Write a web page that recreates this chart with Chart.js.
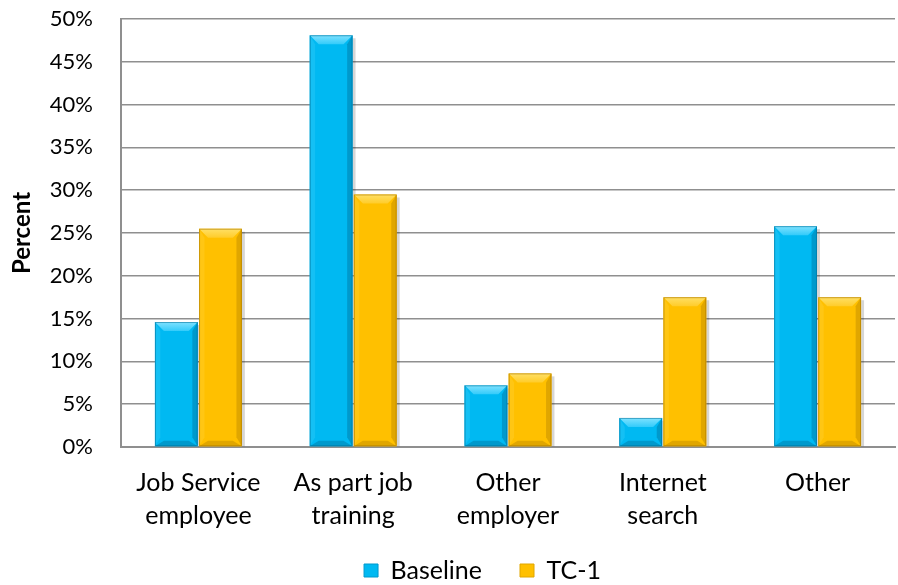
<!DOCTYPE html>
<html>
<head>
<meta charset="utf-8">
<script src="https://cdn.jsdelivr.net/npm/chart.js@4"></script>
<style>
  html, body { margin: 0; padding: 0; background: #fff; }
  #wrap { width: 898px; height: 585px; }
</style>
</head>
<body>
<div id="wrap"><canvas id="chart" width="898" height="585"></canvas></div>
<script>
const categories = [['Job Service', 'employee'], ['As part job', 'training'], ['Other', 'employer'], ['Internet', 'search'], ['Other']];
const baseline = [14.6, 48.1, 7.2, 3.4, 25.8];
const tc1 = [25.5, 29.5, 8.6, 17.5, 17.5];
const yTicks = [0, 5, 10, 15, 20, 25, 30, 35, 40, 45, 50];

const FONT = 'Lato, "Open Sans", sans-serif';
const LEGEND_H = 65;

// bevelled bar look: lighter top facet, shaded sides, soft shadow on the right
const bevel = {
  id: 'bevel',
  beforeDatasetsDraw(chart) {
    const ctx = chart.ctx;
    chart.data.datasets.forEach((ds, di) => {
      chart.getDatasetMeta(di).data.forEach(bar => {
        const w = bar.width;
        ctx.save();
        ctx.fillStyle = 'rgba(0,0,0,0.16)';
        ctx.fillRect(bar.x + w / 2, bar.y + 3, 3, bar.base - bar.y - 3);
        ctx.restore();
      });
    });
  },
  afterDatasetsDraw(chart) {
    const ctx = chart.ctx;
    chart.data.datasets.forEach((ds, di) => {
      chart.getDatasetMeta(di).data.forEach(bar => {
        const w = bar.width;
        const l = bar.x - w / 2, r = bar.x + w / 2;
        const t = bar.y, b = bar.base;
        const h = b - t;
        const bv = Math.min(9, h / 2, w / 2);
        ctx.save();
        // top facet
        const g = ctx.createLinearGradient(0, t, 0, t + bv);
        g.addColorStop(0, ds.bevelTop);
        g.addColorStop(1, ds.bevelTop2);
        ctx.fillStyle = g;
        ctx.beginPath();
        ctx.moveTo(l, t); ctx.lineTo(r, t); ctx.lineTo(r - bv, t + bv); ctx.lineTo(l + bv, t + bv);
        ctx.closePath(); ctx.fill();
        // left facet
        ctx.fillStyle = ds.bevelSide;
        ctx.beginPath();
        ctx.moveTo(l, t); ctx.lineTo(l + bv * 0.6, t + bv); ctx.lineTo(l + bv * 0.6, b - bv); ctx.lineTo(l, b);
        ctx.closePath(); ctx.fill();
        // right facet
        ctx.fillStyle = ds.bevelDark;
        ctx.beginPath();
        ctx.moveTo(r, t); ctx.lineTo(r - bv * 0.6, t + bv); ctx.lineTo(r - bv * 0.6, b - bv); ctx.lineTo(r, b);
        ctx.closePath(); ctx.fill();
        // bottom facet
        ctx.fillStyle = ds.bevelDark;
        ctx.beginPath();
        ctx.moveTo(l, b); ctx.lineTo(r, b); ctx.lineTo(r - bv, b - bv * 0.6); ctx.lineTo(l + bv, b - bv * 0.6);
        ctx.closePath(); ctx.fill();
        // outline
        ctx.strokeStyle = ds.edge;
        ctx.lineWidth = 1;
        ctx.strokeRect(l + 0.5, t + 0.5, w - 1, h - 1);
        ctx.restore();
      });
    });
  }
};

// legend keeps wide item spacing but takes less height; category labels may run into its box
const legendFit = {
  id: 'legendFit',
  beforeLayout(chart) {
    const lg = chart.legend;
    if (lg && !lg._fitWrapped) {
      const fit = lg.fit;
      lg.fit = function () { fit.call(this); this.height = LEGEND_H; };
      lg._fitWrapped = true;
    }
  },
  afterLayout(chart) {
    const lg = chart.legend;
    lg.left += 35; lg.right += 35;
    chart.scales.x.bottom += 16;
  }
};

new Chart(document.getElementById('chart'), {
  type: 'bar',
  data: {
    labels: categories,
    datasets: [{
      label: 'Baseline',
      data: baseline,
      backgroundColor: '#00b9f2',
      borderWidth: 0,
      bevelTop: '#7fe2ff',
      bevelTop2: '#33cbfa',
      bevelSide: '#14c0f4',
      bevelDark: '#0099cc',
      edge: 'rgba(0,110,150,0.55)',
      categoryPercentage: 0.57,
      barPercentage: 0.97
    }, {
      label: 'TC-1',
      data: tc1,
      backgroundColor: '#ffc000',
      borderWidth: 0,
      bevelTop: '#ffe066',
      bevelTop2: '#ffcc2a',
      bevelSide: '#ffc614',
      bevelDark: '#e0a600',
      edge: 'rgba(170,120,0,0.6)',
      categoryPercentage: 0.57,
      barPercentage: 0.97
    }]
  },
  options: {
    responsive: false,
    animation: false,
    layout: { padding: { top: 19, right: 3, left: 0, bottom: 0 } },
    plugins: {
      tooltip: { enabled: false },
      legend: {
        position: 'bottom',
        labels: {
          font: { family: FONT, size: 25 },
          color: '#000',
          boxWidth: 14,
          boxHeight: 13,
          padding: 38,
          generateLabels(chart) {
            return chart.data.datasets.map((ds, i) => ({
              text: ds.label,
              fillStyle: ds.backgroundColor,
              strokeStyle: ds.bevelDark,
              lineWidth: 1,
              datasetIndex: i
            }));
          }
        }
      }
    },
    scales: {
      x: {
        afterFit(scale) { scale.height = 585 - LEGEND_H - 447; },
        grid: { display: false, drawTicks: false },
        border: { color: '#8f8f8f', width: 2 },
        ticks: {
          color: '#000',
          font: { family: FONT, size: 25, lineHeight: 1.32 },
          maxRotation: 0,
          autoSkip: false,
          padding: 19
        }
      },
      y: {
        min: 0,
        max: 50,
        afterBuildTicks(scale) { scale.ticks = yTicks.map(v => ({ value: v })); },
        afterFit(scale) {
          scale.width = 121;
          scale.paddingTop = 0;
          scale.paddingBottom = 0;
        },
        grid: { color: '#8f8f8f', lineWidth: 1.5, drawTicks: false },
        border: { color: '#8f8f8f', width: 2 },
        ticks: {
          color: '#000',
          font: { family: FONT, size: 22 },
          padding: 28,
          callback: v => v + '%'
        },
        title: {
          display: true,
          text: 'Percent',
          color: '#000',
          font: { family: FONT, size: 24, weight: 'bold' },
          padding: { top: 8, bottom: 0 }
        }
      }
    }
  },
  plugins: [bevel, legendFit]
});
</script>
</body>
</html>
